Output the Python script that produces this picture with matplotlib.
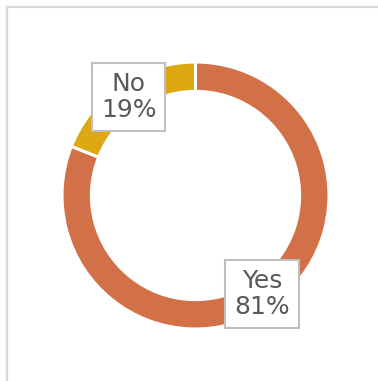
import matplotlib.pyplot as plt
import numpy as np
from matplotlib.lines import Line2D

labels = ["Yes", "No"]
shares = [81, 19]
colors = ["#D27148", "#DEA812"]

fig = plt.figure(figsize=(3.78, 3.81), dpi=100)
fig.patch.set_facecolor("white")

# light frame, only top and left edges show
fig.add_artist(Line2D([6.5 / 378, 6.5 / 378], [0, 1 - 6.5 / 381],
                      color="#D9D9D9", lw=1.6, transform=fig.transFigure))
fig.add_artist(Line2D([6.5 / 378, 1], [1 - 6.5 / 381, 1 - 6.5 / 381],
                      color="#D9D9D9", lw=1.6, transform=fig.transFigure))

cx, cy, r = 195.5, 195.5, 133.5
ax = fig.add_axes([(cx - r) / 378, (381 - cy - r) / 381, 2 * r / 378, 2 * r / 381])

wedges, _ = ax.pie(shares, colors=colors, startangle=90, counterclock=False,
                   radius=1, wedgeprops=dict(width=0.22, edgecolor="white", linewidth=2.2))
ax.set_xlim(-1, 1)
ax.set_ylim(-1, 1)
ax.set_aspect("equal")
ax.axis("off")

for w, lab, val in zip(wedges, labels, shares):
    mid = np.deg2rad((w.theta1 + w.theta2) / 2)
    x, y = 0.89 * np.cos(mid), 0.89 * np.sin(mid)
    ax.text(x, y, f"{lab}\n{val}%", ha="center", va="center", fontsize=18,
            color="#595959", family="DejaVu Sans", linespacing=1.1,
            bbox=dict(boxstyle="square,pad=0.36", fc="white", ec="#BFBFBF", lw=1.5))

fig.savefig("out.png", dpi=100)
